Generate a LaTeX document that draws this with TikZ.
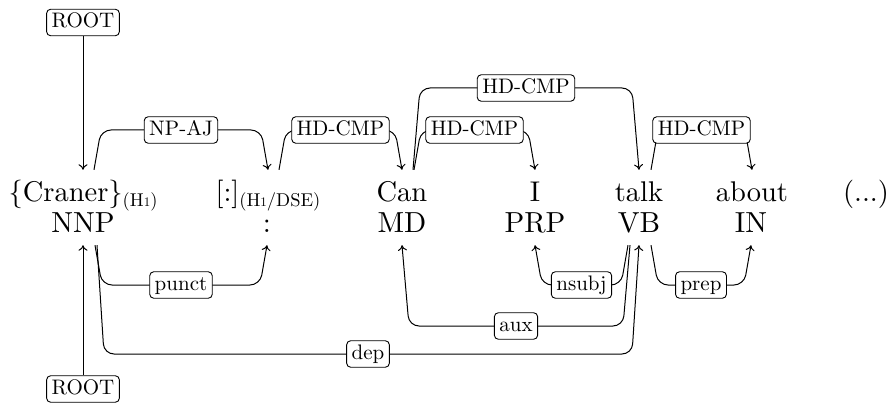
\documentclass[tikz,border=0pt]{standalone}
\usepackage{fontspec}
\setmainfont{lmroman10-regular.otf}
\usetikzlibrary{arrows.meta,calc}

% small subscript annotation after a token
\newcommand\wsub[1]{\raisebox{-5pt}{\fontsize{18.5}{20}\selectfont(#1)}}
\newcommand\osone{{\fontsize{13}{14}\selectfont 1}}

\tikzset{
  word/.style={anchor=base, inner xsep=0pt, inner ysep=10pt,
    text height=21pt, text depth=1pt, font=\fontsize{28.5}{34}\selectfont},
  tag/.style={anchor=base, inner xsep=0pt, inner ysep=10pt,
    text height=21pt, text depth=2pt, font=\fontsize{29}{34}\selectfont},
  deplabel/.style={draw, fill=white, rounded corners=4pt, line width=0.9pt,
    inner xsep=5pt, inner ysep=3.5pt, text height=15pt, text depth=4.5pt,
    font=\fontsize{21}{24}\selectfont},
  depline/.style={draw, line width=1pt, rounded corners=10pt,
    -{To[length=5.5pt,width=9pt]}},
}

% #1 anchor, #2 head node, #3 start offset, #4 dependent node,
% #5 height of the horizontal run, #6 relation label, #7 slant
\newcommand\linkarc[7]{%
  \draw[depline] let \p1=(#2.#1), \p2=(#4.#1) in
    (\x1+#3,\y1) -- (\x1+#3+#7,#5) -- node[deplabel]{#6} (\x2-#7,#5) -- (\x2,\y2);}

\begin{document}
\begin{tikzpicture}[x=1pt,y=1pt]
\useasboundingbox (0,0) rectangle (892,405);

% tokens
\node[word] (w1) at (83,204)  {\{Craner\}\wsub{H\osone}};
\node[word] (w2) at (268,204) {[:]\wsub{H\osone/DSE}};
\node[word] (w3) at (402,204) {Can};
\node[word] (w4) at (535,204) {I};
\node[word] (w5) at (639,204) {talk};
\node[word] (w6) at (752,204) {about};
\node[word] (w7) at (866,204) {(...)};

% part-of-speech tags
\node[tag] (t1) at (83,172)  {NNP};
\node[tag] (t2) at (267,172) {:};
\node[tag] (t3) at (402,172) {MD};
\node[tag] (t4) at (535,172) {PRP};
\node[tag] (t5) at (639,172) {VB};
\node[tag] (t6) at (751,172) {IN};

% roots
\node[deplabel] (roottop) at (83,382.5) {ROOT};
\node[deplabel] (rootbot) at (83,16) {ROOT};
\draw[depline] (roottop) -- (w1.north);
\draw[depline] (rootbot) -- (t1.south);

% arcs above the tokens
\linkarc{north}{w1}{11pt}{w2}{275pt}{NP-AJ}{7pt}
\linkarc{north}{w2}{11pt}{w3}{275pt}{HD-CMP}{7pt}
\linkarc{north}{w3}{11pt}{w5}{317pt}{HD-CMP}{7pt}
\linkarc{north}{w3}{12pt}{w4}{275pt}{HD-CMP}{7pt}
\linkarc{north}{w5}{12pt}{w6}{275pt}{HD-CMP}{7pt}

% arcs below the tags
\linkarc{south}{t1}{14pt}{t5}{51pt}{dep}{7pt}
\linkarc{south}{t1}{12pt}{t2}{120pt}{punct}{7pt}
\linkarc{south}{t5}{-9pt}{t3}{79pt}{aux}{-7pt}
\linkarc{south}{t5}{-11pt}{t4}{120pt}{nsubj}{-7pt}
\linkarc{south}{t5}{12pt}{t6}{120pt}{prep}{7pt}
\end{tikzpicture}
\end{document}
